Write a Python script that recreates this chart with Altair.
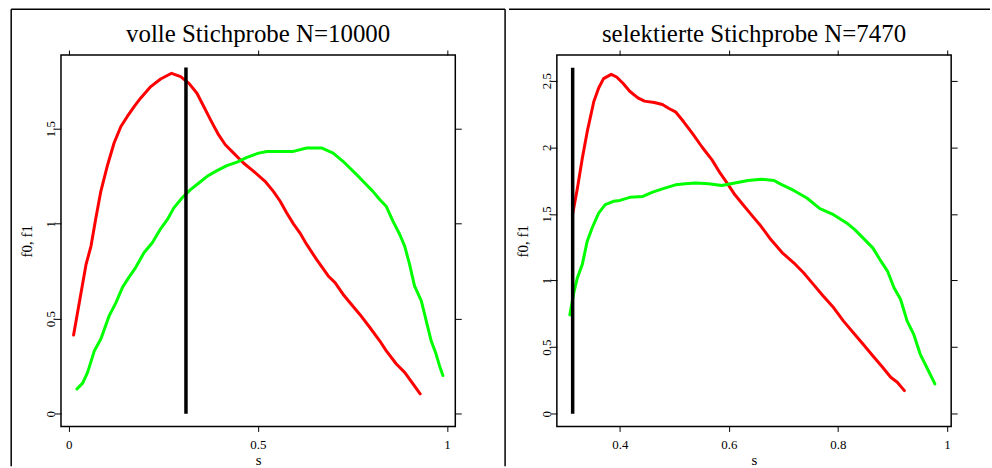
import altair as alt
import pandas as pd

# ---------------- data ----------------
left_title = "volle Stichprobe N=10000"
right_title = "selektierte Stichprobe N=7470"
x_title = "s"
y_title = "f0, f1"
series_names = ["f0", "f1"]
series_colors = ["#ff0000", "#00ff00"]

left_red_s = [0.013, 0.032, 0.046, 0.059, 0.072, 0.085, 0.103, 0.120, 0.138, 0.155,
              0.173, 0.190, 0.217, 0.243, 0.272, 0.296, 0.318, 0.339, 0.357, 0.375,
              0.396, 0.414, 0.436, 0.462, 0.489, 0.519, 0.541, 0.559, 0.576, 0.594,
              0.611, 0.629, 0.655, 0.686, 0.704, 0.725, 0.743, 0.769, 0.796, 0.822,
              0.839, 0.866, 0.888, 0.910, 0.929]
left_red_v = [0.414, 0.629, 0.786, 0.882, 1.031, 1.170, 1.310, 1.424, 1.511, 1.564,
              1.616, 1.660, 1.721, 1.761, 1.791, 1.773, 1.738, 1.686, 1.616, 1.546,
              1.468, 1.415, 1.371, 1.319, 1.275, 1.223, 1.170, 1.118, 1.057, 0.999,
              0.952, 0.891, 0.812, 0.725, 0.690, 0.629, 0.585, 0.524, 0.454, 0.384,
              0.332, 0.262, 0.218, 0.157, 0.105]
left_green_s = [0.022, 0.037, 0.050, 0.068, 0.085, 0.107, 0.125, 0.142, 0.160, 0.177,
                0.199, 0.221, 0.243, 0.261, 0.278, 0.300, 0.322, 0.344, 0.366, 0.392,
                0.418, 0.445, 0.471, 0.502, 0.524, 0.559, 0.594, 0.629, 0.668, 0.699,
                0.725, 0.761, 0.787, 0.804, 0.822, 0.839, 0.857, 0.875, 0.888, 0.901,
                0.914, 0.932, 0.945, 0.958, 0.971, 0.980, 0.989]
left_green_v = [0.131, 0.161, 0.218, 0.332, 0.393, 0.515, 0.585, 0.664, 0.720, 0.769,
                0.847, 0.900, 0.973, 1.022, 1.083, 1.136, 1.179, 1.214, 1.249, 1.279,
                1.305, 1.324, 1.349, 1.371, 1.380, 1.380, 1.380, 1.398, 1.398, 1.371,
                1.328, 1.258, 1.205, 1.170, 1.127, 1.092, 1.013, 0.943, 0.882, 0.786,
                0.673, 0.594, 0.489, 0.384, 0.314, 0.253, 0.201]
left_cut_s = 0.310
left_cut_top = 1.822

right_red_s = [0.313, 0.322, 0.331, 0.340, 0.352, 0.361, 0.370, 0.384, 0.394, 0.406,
               0.418, 0.433, 0.445, 0.463, 0.478, 0.490, 0.502, 0.517, 0.533, 0.551,
               0.569, 0.584, 0.599, 0.611, 0.626, 0.641, 0.659, 0.677, 0.698, 0.719,
               0.737, 0.755, 0.773, 0.792, 0.810, 0.828, 0.846, 0.864, 0.882, 0.897,
               0.909, 0.922]
right_red_v = [1.494, 1.693, 1.917, 2.117, 2.341, 2.445, 2.515, 2.547, 2.527, 2.478,
               2.420, 2.371, 2.346, 2.336, 2.321, 2.291, 2.266, 2.191, 2.104, 2.000,
               1.905, 1.805, 1.718, 1.643, 1.569, 1.494, 1.407, 1.307, 1.208, 1.133,
               1.058, 0.971, 0.884, 0.797, 0.697, 0.610, 0.523, 0.436, 0.349, 0.274,
               0.237, 0.174]
right_green_s = [0.308, 0.316, 0.322, 0.331, 0.340, 0.349, 0.361, 0.373, 0.388, 0.400,
                 0.418, 0.442, 0.460, 0.478, 0.502, 0.520, 0.539, 0.563, 0.587, 0.611,
                 0.635, 0.659, 0.683, 0.695, 0.719, 0.743, 0.767, 0.792, 0.816, 0.831,
                 0.846, 0.864, 0.879, 0.891, 0.903, 0.915, 0.927, 0.939, 0.951, 0.963,
                 0.978]
right_green_v = [0.742, 0.921, 1.021, 1.121, 1.295, 1.394, 1.506, 1.569, 1.594, 1.601,
                 1.624, 1.631, 1.663, 1.688, 1.718, 1.726, 1.731, 1.726, 1.713, 1.731,
                 1.751, 1.760, 1.751, 1.723, 1.676, 1.619, 1.539, 1.494, 1.432, 1.382,
                 1.320, 1.245, 1.145, 1.071, 0.946, 0.859, 0.697, 0.598, 0.448, 0.349,
                 0.224]
right_cut_s = 0.3133
right_cut_top = 2.597

left_x_ticks = [0, 0.5, 1]
left_y_ticks = [0, 0.5, 1, 1.5]
right_x_ticks = [0.4, 0.6, 0.8, 1]
right_y_ticks = [0, 0.5, 1, 1.5, 2, 2.5]

left_x_domain = [-0.0203, 1.0218]
left_y_domain = [-0.0665, 1.887]
right_x_domain = [0.2843, 1.0079]
right_y_domain = [-0.0949, 2.692]

# ---------------- layout / style ----------------
W, H = 396, 373
FONT = "Liberation Serif"
FRAME_W = 1.5
FRAME_TOP = -46
FRAME_BOTTOM = 413


def frame_rule(**enc):
    return alt.Chart(pd.DataFrame({"k": [0]})).mark_rule(
        color="black", strokeWidth=FRAME_W
    ).encode(**enc)


def panel(red_s, red_v, green_s, green_v, cut_s, cut_top, xdom, ydom, xt, yt,
          title, frames):
    df = pd.DataFrame({
        "s": red_s + green_s,
        "v": red_v + green_v,
        "kurve": [series_names[0]] * len(red_s) + [series_names[1]] * len(green_s),
    })
    xs = alt.Scale(domain=xdom, zero=False, nice=False)
    ys = alt.Scale(domain=ydom, zero=False, nice=False)

    lines = alt.Chart(df).mark_line(strokeWidth=3, strokeJoin="round", strokeCap="round").encode(
        x=alt.X("s:Q", scale=xs, axis=alt.Axis(
            orient="bottom", values=xt, format="~g", title=x_title,
            tickSize=5, labelPadding=7.3, minExtent=25, maxExtent=25,
            titlePadding=13.5, titleBaseline="alphabetic")),
        y=alt.Y("v:Q", scale=ys, axis=alt.Axis(
            orient="left", values=yt, format="~g", title=y_title,
            tickSize=6.5, labelPadding=0.3, labelAngle=-90, labelAlign="center",
            labelBaseline="alphabetic", minExtent=18, maxExtent=18,
            titlePadding=11.5, titleBaseline="alphabetic")),
        color=alt.Color("kurve:N", scale=alt.Scale(domain=series_names, range=series_colors),
                        legend=None),
    )
    cut = alt.Chart(pd.DataFrame({"s": [cut_s], "v0": [0.0], "v1": [cut_top]})).mark_rule(
        color="black", strokeWidth=3.5
    ).encode(
        x=alt.X("s:Q", scale=xs, axis=alt.Axis(
            orient="top", values=xt, labels=False, title=None, tickSize=5,
            minExtent=0, maxExtent=10)),
        y=alt.Y("v0:Q", scale=ys, axis=alt.Axis(
            orient="right", values=yt, labels=False, title=None, tickSize=6,
            minExtent=0, maxExtent=10)),
        y2="v1:Q",
    )
    layers = frames + [lines, cut]
    return alt.layer(*layers).resolve_axis(x="independent", y="independent").properties(
        width=W, height=H,
        title=alt.TitleParams(text=title, font=FONT, fontSize=25, fontWeight="normal",
                              color="black", frame="group", anchor="middle",
                              baseline="alphabetic", offset=-58.5),
    )


left_frames = [
    frame_rule(x=alt.value(-50), x2=alt.value(446), y=alt.value(FRAME_TOP)),
    frame_rule(x=alt.value(-50), y=alt.value(FRAME_TOP), y2=alt.value(FRAME_BOTTOM)),
    frame_rule(x=alt.value(446), y=alt.value(FRAME_TOP), y2=alt.value(FRAME_BOTTOM)),
]
right_frames = [
    frame_rule(x=alt.value(-48), x2=alt.value(435), y=alt.value(FRAME_TOP)),
]

left = panel(left_red_s, left_red_v, left_green_s, left_green_v, left_cut_s, left_cut_top,
             left_x_domain, left_y_domain, left_x_ticks, left_y_ticks, left_title, left_frames)
right = panel(right_red_s, right_red_v, right_green_s, right_green_v, right_cut_s, right_cut_top,
              right_x_domain, right_y_domain, right_x_ticks, right_y_ticks, right_title, right_frames)

chart = alt.hconcat(left, right, spacing=0).properties(
    padding={"left": 9.25, "top": 6.25, "right": 0, "bottom": 0},
    background="white",
).configure_view(
    stroke="black", strokeWidth=FRAME_W
).configure_axis(
    labelFont=FONT, labelFontSize=13, labelColor="black",
    titleFont=FONT, titleFontSize=15, titleColor="black", titleFontWeight="normal",
    tickColor="black", tickWidth=1, domain=False, grid=False,
)

chart.save("out.html", embed_options={"renderer": "svg", "actions": False})
